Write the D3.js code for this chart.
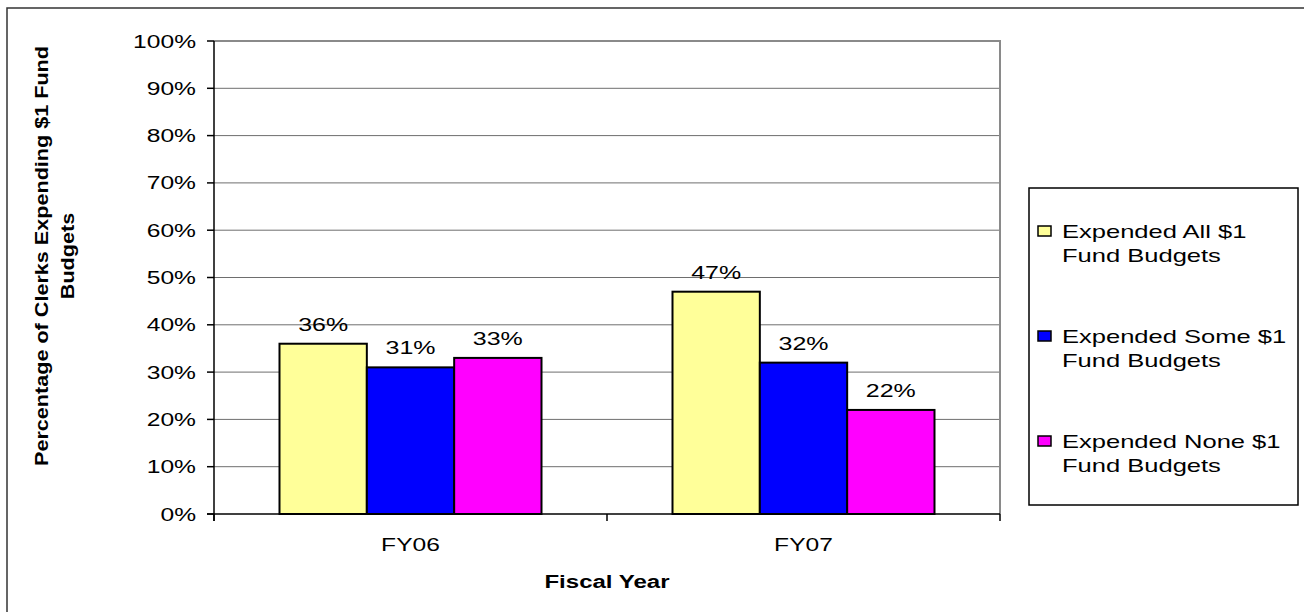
<!DOCTYPE html>
<html><head><meta charset="utf-8">
<script src="https://cdn.jsdelivr.net/npm/d3@7"></script>
<style>body{margin:0;background:#fff}svg{display:block}text{font-family:"Liberation Sans",Arial,sans-serif;fill:#000}</style>
</head><body>
<script>
const categories = ["FY06", "FY07"];
const seriesNames = ["Expended All $1 Fund Budgets", "Expended Some $1 Fund Budgets", "Expended None $1 Fund Budgets"];
const legendLines = [["Expended All $1", "Fund Budgets"], ["Expended Some $1", "Fund Budgets"], ["Expended None $1", "Fund Budgets"]];
const expendedAll = [0.36, 0.47];
const expendedSome = [0.31, 0.32];
const expendedNone = [0.33, 0.22];
const seriesColors = ["#FFFF99", "#0000FF", "#FF00FF"];
const yTicks = [0, 0.1, 0.2, 0.3, 0.4, 0.5, 0.6, 0.7, 0.8, 0.9, 1.0];
const yTitleLines = ["Percentage of Clerks Expending $1 Fund", "Budgets"];
const xTitle = "Fiscal Year";

const W = 1304, H = 612;
const svg = d3.select("body").append("svg").attr("width", W).attr("height", H);

// outer frame
svg.append("path").attr("d", "M7,612 L7,8 L1304,8").attr("fill", "none").attr("stroke", "#333").attr("stroke-width", 1.5);

const pl = 214, pr = 1000, pt = 41, pb = 514;
const x0 = d3.scaleBand().domain(categories).range([pl, pr]).paddingInner(0).paddingOuter(0);
const x1 = d3.scaleBand().domain(d3.range(3)).range([0, x0.bandwidth()]).paddingOuter(0.75).paddingInner(0);
const y = d3.scaleLinear().domain([0, 1]).range([pb, pt]);

function stext(g, str, x, yy, fs, sx, anchor, weight, rot) {
  const t = g.append("text").attr("transform", `translate(${x},${yy}) rotate(${rot||0}) scale(${sx},1)`)
    .attr("font-size", fs).attr("text-anchor", anchor).text(str);
  if (weight) t.attr("font-weight", weight);
  return t;
}

// gridlines
svg.append("g").selectAll("line").data(yTicks.filter(d => d > 0 && d < 1)).join("line")
  .attr("x1", pl).attr("x2", pr).attr("y1", d => y(d)).attr("y2", d => y(d))
  .attr("stroke", "#6e6e6e").attr("stroke-width", 1);
// plot border top/right
svg.append("path").attr("d", `M${pl},${y(1)} L${pr},${y(1)} L${pr},${pb}`).attr("fill", "none").attr("stroke", "#8a8a8a").attr("stroke-width", 2);

// bars
const series = [expendedAll, expendedSome, expendedNone];
const gBars = svg.append("g");
series.forEach((vals, si) => {
  gBars.selectAll(null).data(vals).join("rect")
    .attr("x", (d, i) => x0(categories[i]) + x1(si))
    .attr("y", d => y(d))
    .attr("width", x1.bandwidth())
    .attr("height", d => pb - y(d))
    .attr("fill", seriesColors[si]).attr("stroke", "#000").attr("stroke-width", 2);
});

// value labels
const gLab = svg.append("g");
series.forEach((vals, si) => {
  vals.forEach((v, i) => {
    stext(gLab, Math.round(v * 100) + "%", x0(categories[i]) + x1(si) + x1.bandwidth() / 2, y(v) - 13, 18.5, 1.35, "middle");
  });
});

// y axis
svg.append("line").attr("x1", pl).attr("x2", pl).attr("y1", pt).attr("y2", pb + 7).attr("stroke", "#000").attr("stroke-width", 1.5);
const gy = svg.append("g");
yTicks.forEach(t => {
  gy.append("line").attr("x1", pl - 7).attr("x2", pl).attr("y1", y(t)).attr("y2", y(t)).attr("stroke", "#000").attr("stroke-width", 1.5);
  stext(gy, Math.round(t * 100) + "%", 196, y(t) + 6.5, 18.5, 1.33, "end");
});
// x axis
svg.append("line").attr("x1", pl - 7).attr("x2", pr).attr("y1", pb).attr("y2", pb).attr("stroke", "#000").attr("stroke-width", 1.5);
const gx = svg.append("g");
[pl, pl + x0.bandwidth(), pr].forEach(xx => {
  gx.append("line").attr("x1", xx).attr("x2", xx).attr("y1", pb).attr("y2", pb + 7).attr("stroke", "#000").attr("stroke-width", 1.5);
});
categories.forEach(c => stext(gx, c, x0(c) + x0.bandwidth() / 2, 551, 18.5, 1.33, "middle"));

// titles
stext(svg, xTitle, (pl + pr) / 2, 588, 18.5, 1.3, "middle", "bold");
stext(svg, yTitleLines[0], 48, 256, 18, 1.2, "middle", "bold", -90);
stext(svg, yTitleLines[1], 74, 256, 18, 1.2, "middle", "bold", -90);

// legend
const lg = svg.append("g");
lg.append("rect").attr("x", 1029).attr("y", 188).attr("width", 269).attr("height", 317)
  .attr("fill", "#fff").attr("stroke", "#000").attr("stroke-width", 1.5);
legendLines.forEach((lines, i) => {
  const by = 238 + i * 105;
  lg.append("rect").attr("x", 1038).attr("y", by - 12).attr("width", 13).attr("height", 10)
    .attr("fill", seriesColors[i]).attr("stroke", "#000").attr("stroke-width", 1.5);
  lines.forEach((ln, j) => stext(lg, ln, 1062, by + j * 24, 18.5, 1.38, "start"));
});
</script>
</body></html>
